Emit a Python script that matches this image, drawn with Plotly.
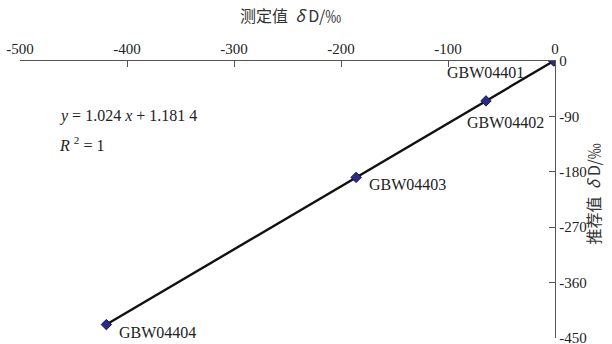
import numpy as np
import plotly.graph_objects as go

# Reference materials: measured vs. recommended deuterium values (‰)
samples = ["GBW04401", "GBW04402", "GBW04403", "GBW04404"]
measured = [-1.2, -64.5, -185.9, -419.3]
recommended = [-0.1, -64.8, -189.1, -428.2]

x_ticks = [-500, -400, -300, -200, -100, 0]
y_ticks = [0, -90, -180, -270, -360, -450]

# label offsets in pixels (xanchor, xshift, yshift)
label_style = [("right", -28, -11), ("left", -21, -22), ("left", 11, -7), ("left", 11, -8)]

serif = "Liberation Serif"
cjk = "Noto Sans CJK SC, Liberation Serif"

slope, intercept = np.polyfit(measured, recommended, 1)
x_fit = np.array([min(measured), max(measured)])
y_fit = slope * x_fit + intercept

fig = go.Figure()
fig.add_trace(go.Scatter(x=x_fit, y=y_fit, mode="lines",
                         line=dict(color="#111111", width=2.4), hoverinfo="skip"))
fig.add_trace(go.Scatter(x=measured, y=recommended, mode="markers",
                         marker=dict(symbol="diamond", size=8, color="#2b2b8c",
                                     line=dict(color="#151545", width=1))))

for name, xv, yv, (anc, dx, dy) in zip(samples, measured, recommended, label_style):
    fig.add_annotation(x=xv, y=yv, text=name, showarrow=False, xanchor=anc,
                       yanchor="middle", xshift=dx, yshift=dy,
                       font=dict(family=serif, size=16, color="#222222"))

fig.add_annotation(xref="paper", yref="paper", x=0.505, y=1.115,
                   text="测定值  <i>δ</i> D/‰",
                   showarrow=False, xanchor="center", yanchor="bottom",
                   font=dict(family=cjk, size=16, color="#333333"))
fig.add_annotation(xref="paper", yref="paper", x=1.098, y=0.52,
                   text="推荐值  <i>δ</i> D/‰", showarrow=False, textangle=-90,
                   xanchor="right", yanchor="middle",
                   font=dict(family=cjk, size=16, color="#333333"))

fig.add_annotation(xref="paper", yref="paper", x=0.07, y=0.80,
                   text="<i>y</i> = 1.024 <i>x</i> + 1.181 4", showarrow=False,
                   xanchor="left", yanchor="middle",
                   font=dict(family=serif, size=16, color="#222222"))
fig.add_annotation(xref="paper", yref="paper", x=0.07, y=0.70,
                   text="<i>R</i> <sup>2</sup> = 1", showarrow=False,
                   xanchor="left", yanchor="middle",
                   font=dict(family=serif, size=16, color="#222222"))

axis_common = dict(showgrid=False, zeroline=False, showline=True, linecolor="#555555",
                   linewidth=1.3, ticks="inside", ticklen=6, tickcolor="#555555",
                   tickwidth=1.3, ticklabeloverflow="allow", automargin=False,
                   tickfont=dict(family=serif, size=15, color="#222222"))

fig.update_xaxes(range=[-500, 0], side="top", tickvals=x_ticks,
                 ticktext=[str(v) for v in x_ticks], **axis_common)
fig.update_yaxes(range=[-450, 0], side="right", tickvals=y_ticks,
                 ticktext=[str(v) for v in y_ticks], **axis_common)

fig.update_layout(width=612, height=344, showlegend=False,
                  margin=dict(l=20, r=57, t=61, b=6, autoexpand=False),
                  paper_bgcolor="white", plot_bgcolor="white")

fig.write_html("out.html")
